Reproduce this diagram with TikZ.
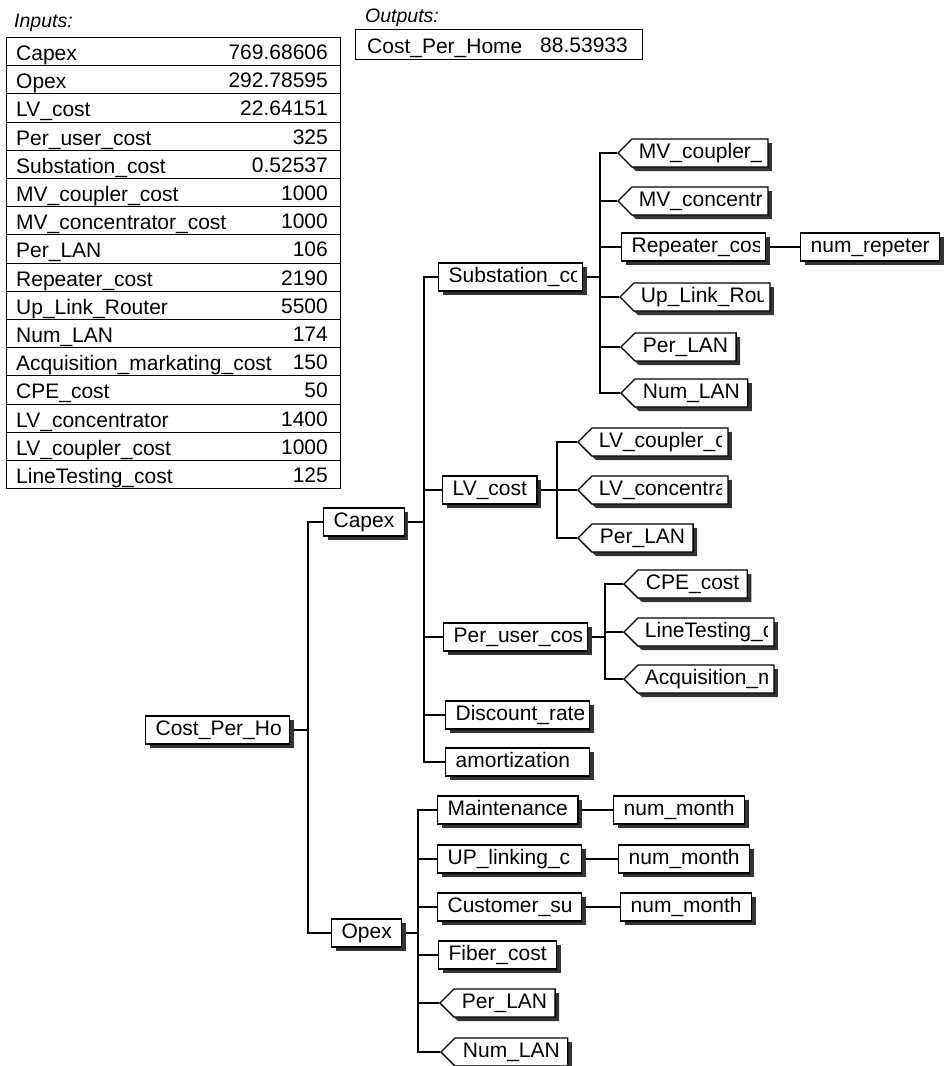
\documentclass[tikz,border=0pt]{standalone}
\usepackage{fontspec}
\setmainfont{Liberation Sans}
\usetikzlibrary{shapes.symbols,shadows,backgrounds}

\newcommand\dfont{\fontsize{21}{25}\selectfont}

\tikzset{
  base/.style={font=\dfont, text height=15pt, text depth=4.5pt,
    line width=1.3pt, draw=black, fill=white, minimum height=28pt, inner ysep=0pt,
    drop shadow={shadow xshift=4pt, shadow yshift=-4pt, opacity=1, fill=black!80}},
  fbox/.style={base, rectangle, inner xsep=10pt},
  ftag/.style={base, signal, signal to=west, signal pointer angle=90, inner xsep=8pt},
  % text that is cut off at the right edge of a fixed-width box
  cliptext/.style 2 args={path picture={
    \clip ([xshift=1pt,yshift=1pt]path picture bounding box.south west)
      rectangle ([xshift=-6pt,yshift=-1pt]path picture bounding box.north east);
    \pgftext[left,base,at={\pgfpointadd{\pgfpointanchor{path picture bounding box}{west}}{\pgfpoint{#1}{-5.25pt}}}]{\dfont #2};}},
  cbox/.style={base, rectangle, minimum width=144pt, cliptext={10pt}{#1}},
  ctag/.style={base, signal, signal to=west, signal pointer angle=90,
    minimum width=150pt, cliptext={21pt}{#1}},
  link/.style={line width=1.3pt, draw=black},
  rowbox/.style={draw, line width=1.2pt, anchor=north west, minimum width=334pt,
    minimum height=28pt, inner sep=0pt},
  celltext/.style={font=\dfont, inner sep=0pt},
  caption/.style={font=\fontsize{19.5}{23}\selectfont\itshape, inner sep=0pt, anchor=base west},
}

\begin{document}
\begin{tikzpicture}[x=1pt, y=-1pt]
\useasboundingbox (0,0) rectangle (943,1066);

% ---------- input table ----------
\node[caption] (inlab) at (14,27) {Inputs:};
\foreach \lab/\val [count=\i from 0,
    evaluate=\i as \top using {int(37+28.2*\i+0.5)}] in {
  Capex/769.68606, Opex/292.78595, LV\_cost/22.64151, Per\_user\_cost/325,
  Substation\_cost/0.52537, MV\_coupler\_cost/1000, MV\_concentrator\_cost/1000,
  Per\_LAN/106, Repeater\_cost/2190, Up\_Link\_Router/5500, Num\_LAN/174,
  Acquisition\_markating\_cost/150, CPE\_cost/50, LV\_concentrator/1400,
  LV\_coupler\_cost/1000, LineTesting\_cost/125} {
  \node[rowbox, minimum height={int(37+28.2*(\i+1)+0.5)-\top}] (row\i) at (6,\top) {};
  \node[celltext, anchor=base west] (lab\i) at (16,{\top+23}) {\lab};
  \node[celltext, anchor=base east] (val\i) at (328,{\top+22}) {\val};
}

% ---------- output box ----------
\node[caption] (outlab) at (365,22) {Outputs:};
\node[draw, line width=1.2pt, anchor=north west, minimum width=287pt,
  minimum height=30pt, inner sep=0pt] (outbox) at (355,29) {};
\node[celltext, anchor=base west] (outname) at (367,53) {Cost\_Per\_Home};
\node[celltext, anchor=base east] (outval) at (628,52) {88.53933};

% ---------- tree nodes ----------
\node[cbox={Cost\_Per\_Ho}, anchor=west] (root) at (145,730) {};
\node[fbox, anchor=west] (capex) at (323,522) {Capex};
\node[fbox, anchor=west] (opex) at (331,933) {Opex};

\node[cbox={Substation\_co}, anchor=west] (subst) at (438,277) {};
\node[fbox, anchor=west] (lvcost) at (442,490) {LV\_cost};
\node[cbox={Per\_user\_cos}, anchor=west] (peruser) at (443,637) {};
\node[cbox={Discount\_rate}, anchor=west] (disc) at (445,715) {};
\node[cbox={amortization}, anchor=west] (amort) at (445,762) {};

\node[ctag={MV\_coupler\_}, anchor=west] (mvcoup) at (617,153) {};
\node[ctag={MV\_concentr}, anchor=west] (mvconc) at (617,201) {};
\node[cbox={Repeater\_cos}, anchor=west] (repeat) at (621,247) {};
\node[fbox, anchor=west] (numrep) at (800,247) {num\_repeter};
\node[ctag={Up\_Link\_Rou}, anchor=west] (uplink) at (619,297) {};
\node[ftag, anchor=west] (perlanA) at (620,347) {Per\_LAN};
\node[ftag, anchor=west] (numlanA) at (620,393) {Num\_LAN};

\node[ctag={LV\_coupler\_c}, anchor=west] (lvcoup) at (577,442) {};
\node[ctag={LV\_concentra}, anchor=west] (lvconc) at (577,490) {};
\node[ftag, anchor=west] (perlanB) at (577,538) {Per\_LAN};

\node[ftag, anchor=west] (cpe) at (623,584) {CPE\_cost};
\node[ctag={LineTesting\_c}, anchor=west] (linetest) at (623,632) {};
\node[ctag={Acquisition\_m}, anchor=west] (acq) at (623,679) {};

\node[fbox, anchor=west] (maint) at (437,810) {Maintenance};
\node[fbox, anchor=west] (nmA) at (613,810) {num\_month};
\node[cbox={UP\_linking\_c}, anchor=west] (uplinking) at (437,859) {};
\node[fbox, anchor=west] (nmB) at (618,859) {num\_month};
\node[cbox={Customer\_su}, anchor=west] (cust) at (437,907) {};
\node[fbox, anchor=west] (nmC) at (620,907) {num\_month};
\node[fbox, anchor=west] (fiber) at (438,955) {Fiber\_cost};
\node[ftag, anchor=west] (perlanC) at (439,1003) {Per\_LAN};
\node[ftag, anchor=west] (numlanC) at (440,1052) {Num\_LAN};

% ---------- junction columns ----------
\coordinate (jroot) at (308,0);
\coordinate (jcapex) at (424,0);
\coordinate (jopex) at (418,0);
\coordinate (jsubst) at (600,0);
\coordinate (jlv) at (557,0);
\coordinate (juser) at (605,0);

% ---------- connectors ----------
\begin{scope}[on background layer]
  \foreach \c in {capex, opex}
    \draw[link] (root.east) -- (root.east -| jroot) |- (\c.west);
  \foreach \c in {subst, lvcost, peruser, disc, amort}
    \draw[link] (capex.east) -- (capex.east -| jcapex) |- (\c.west);
  \foreach \c in {maint, uplinking, cust, fiber, perlanC, numlanC}
    \draw[link] (opex.east) -- (opex.east -| jopex) |- (\c.west);
  \foreach \c in {mvcoup, mvconc, repeat, uplink, perlanA, numlanA}
    \draw[link] (subst.east) -- (subst.east -| jsubst) |- (\c.west);
  \foreach \c in {lvcoup, lvconc, perlanB}
    \draw[link] (lvcost.east) -- (lvcost.east -| jlv) |- (\c.west);
  \foreach \c in {cpe, linetest, acq}
    \draw[link] (peruser.east) -- (peruser.east -| juser) |- (\c.west);
  \draw[link] (repeat.east) -- (numrep.west);
  \draw[link] (maint.east) -- (nmA.west);
  \draw[link] (uplinking.east) -- (nmB.west);
  \draw[link] (cust.east) -- (nmC.west);
\end{scope}
\end{tikzpicture}
\end{document}
